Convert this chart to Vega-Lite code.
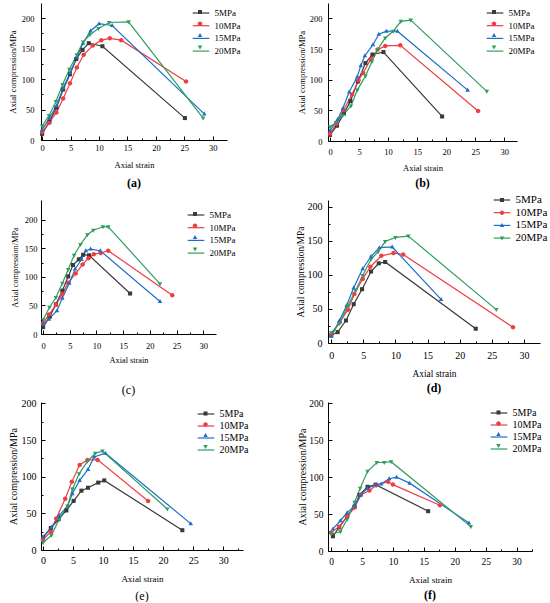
{
  "$schema": "https://vega.github.io/schema/vega-lite/v6.json",
  "padding": {"left": 8, "top": 3, "right": 0, "bottom": 0},
  "config": {
    "font": "Liberation Serif",
    "view": {"stroke": null},
    "axis": {"grid": false, "domainColor": "#000", "domainWidth": 1, "tickColor": "#000", "tickWidth": 1, "labelColor": "#000", "titleColor": "#000", "titleFontWeight": "normal", "labelFont": "Liberation Serif", "titleFont": "Liberation Serif", "labelFlush": false, "labelOverlap": false},
    "legend": {"labelFont": "Liberation Serif", "labelColor": "#000", "padding": 0, "symbolSize": 81, "symbolStrokeWidth": 0, "labelOffset": 8, "symbolOpacity": 1},
    "title": {"font": "Liberation Serif", "color": "#000"}
  },
  "data": {"values": [
    {"p":"a","s":"5MPa","x":0,"y":10},{"p":"a","s":"5MPa","x":1.3,"y":30},{"p":"a","s":"5MPa","x":2.5,"y":53},{"p":"a","s":"5MPa","x":3.7,"y":83},{"p":"a","s":"5MPa","x":4.9,"y":108},{"p":"a","s":"5MPa","x":6.0,"y":133},{"p":"a","s":"5MPa","x":7.1,"y":148},{"p":"a","s":"5MPa","x":8.2,"y":159},{"p":"a","s":"5MPa","x":10.6,"y":154},{"p":"a","s":"5MPa","x":25.1,"y":36},
    {"p":"a","s":"10MPa","x":0,"y":13},{"p":"a","s":"10MPa","x":1.2,"y":28},{"p":"a","s":"10MPa","x":2.5,"y":45},{"p":"a","s":"10MPa","x":3.7,"y":68},{"p":"a","s":"10MPa","x":4.9,"y":93},{"p":"a","s":"10MPa","x":6.1,"y":119},{"p":"a","s":"10MPa","x":7.3,"y":140},{"p":"a","s":"10MPa","x":8.9,"y":155},{"p":"a","s":"10MPa","x":10.4,"y":164},{"p":"a","s":"10MPa","x":11.9,"y":167},{"p":"a","s":"10MPa","x":13.9,"y":164},{"p":"a","s":"10MPa","x":25.3,"y":96},
    {"p":"a","s":"15MPa","x":0,"y":17},{"p":"a","s":"15MPa","x":1.3,"y":36},{"p":"a","s":"15MPa","x":2.5,"y":56},{"p":"a","s":"15MPa","x":3.7,"y":85},{"p":"a","s":"15MPa","x":4.9,"y":110},{"p":"a","s":"15MPa","x":6.1,"y":136},{"p":"a","s":"15MPa","x":7.2,"y":159},{"p":"a","s":"15MPa","x":8.5,"y":179},{"p":"a","s":"15MPa","x":10.0,"y":191},{"p":"a","s":"15MPa","x":12.3,"y":188},{"p":"a","s":"15MPa","x":28.5,"y":43},
    {"p":"a","s":"20MPa","x":0,"y":23},{"p":"a","s":"20MPa","x":1.2,"y":40},{"p":"a","s":"20MPa","x":2.4,"y":63},{"p":"a","s":"20MPa","x":3.6,"y":91},{"p":"a","s":"20MPa","x":4.8,"y":116},{"p":"a","s":"20MPa","x":6.1,"y":140},{"p":"a","s":"20MPa","x":7.2,"y":161},{"p":"a","s":"20MPa","x":8.4,"y":173},{"p":"a","s":"20MPa","x":9.9,"y":183},{"p":"a","s":"20MPa","x":11.8,"y":193},{"p":"a","s":"20MPa","x":15.2,"y":194},{"p":"a","s":"20MPa","x":28.3,"y":36},

    {"p":"b","s":"5MPa","x":0,"y":10},{"p":"b","s":"5MPa","x":1.2,"y":25},{"p":"b","s":"5MPa","x":2.4,"y":45},{"p":"b","s":"5MPa","x":3.5,"y":65},{"p":"b","s":"5MPa","x":4.8,"y":97},{"p":"b","s":"5MPa","x":6.1,"y":127},{"p":"b","s":"5MPa","x":7.3,"y":141},{"p":"b","s":"5MPa","x":9.2,"y":145},{"p":"b","s":"5MPa","x":19.3,"y":40},
    {"p":"b","s":"10MPa","x":0,"y":12},{"p":"b","s":"10MPa","x":1.1,"y":28},{"p":"b","s":"10MPa","x":2.3,"y":50},{"p":"b","s":"10MPa","x":3.8,"y":76},{"p":"b","s":"10MPa","x":4.9,"y":99},{"p":"b","s":"10MPa","x":5.7,"y":111},{"p":"b","s":"10MPa","x":7.0,"y":133},{"p":"b","s":"10MPa","x":8.2,"y":149},{"p":"b","s":"10MPa","x":9.5,"y":155},{"p":"b","s":"10MPa","x":12.1,"y":156},{"p":"b","s":"10MPa","x":25.5,"y":49},
    {"p":"b","s":"15MPa","x":0,"y":17},{"p":"b","s":"15MPa","x":1.3,"y":35},{"p":"b","s":"15MPa","x":2.2,"y":53},{"p":"b","s":"15MPa","x":3.3,"y":80},{"p":"b","s":"15MPa","x":4.7,"y":105},{"p":"b","s":"15MPa","x":5.3,"y":123},{"p":"b","s":"15MPa","x":6.0,"y":139},{"p":"b","s":"15MPa","x":7.4,"y":157},{"p":"b","s":"15MPa","x":8.4,"y":174},{"p":"b","s":"15MPa","x":9.7,"y":179},{"p":"b","s":"15MPa","x":11.6,"y":179},{"p":"b","s":"15MPa","x":23.7,"y":83},
    {"p":"b","s":"20MPa","x":0,"y":23},{"p":"b","s":"20MPa","x":1.0,"y":30},{"p":"b","s":"20MPa","x":2.2,"y":42},{"p":"b","s":"20MPa","x":3.6,"y":57},{"p":"b","s":"20MPa","x":4.7,"y":83},{"p":"b","s":"20MPa","x":6.1,"y":106},{"p":"b","s":"20MPa","x":7.2,"y":129},{"p":"b","s":"20MPa","x":8.2,"y":149},{"p":"b","s":"20MPa","x":9.5,"y":168},{"p":"b","s":"20MPa","x":10.9,"y":179},{"p":"b","s":"20MPa","x":12.2,"y":195},{"p":"b","s":"20MPa","x":13.9,"y":197},{"p":"b","s":"20MPa","x":27.0,"y":81},

    {"p":"c","s":"5MPa","x":0,"y":12},{"p":"c","s":"5MPa","x":1.2,"y":30},{"p":"c","s":"5MPa","x":2.4,"y":52},{"p":"c","s":"5MPa","x":3.6,"y":76},{"p":"c","s":"5MPa","x":4.7,"y":101},{"p":"c","s":"5MPa","x":5.6,"y":121},{"p":"c","s":"5MPa","x":6.7,"y":131},{"p":"c","s":"5MPa","x":7.5,"y":139},{"p":"c","s":"5MPa","x":8.6,"y":138},{"p":"c","s":"5MPa","x":16.3,"y":71},
    {"p":"c","s":"10MPa","x":0,"y":19},{"p":"c","s":"10MPa","x":1.1,"y":34},{"p":"c","s":"10MPa","x":2.4,"y":51},{"p":"c","s":"10MPa","x":3.6,"y":70},{"p":"c","s":"10MPa","x":4.7,"y":90},{"p":"c","s":"10MPa","x":6.1,"y":106},{"p":"c","s":"10MPa","x":7.4,"y":122},{"p":"c","s":"10MPa","x":8.5,"y":133},{"p":"c","s":"10MPa","x":9.5,"y":140},{"p":"c","s":"10MPa","x":10.8,"y":142},{"p":"c","s":"10MPa","x":12.2,"y":146},{"p":"c","s":"10MPa","x":24.2,"y":68},
    {"p":"c","s":"15MPa","x":0,"y":17},{"p":"c","s":"15MPa","x":1.1,"y":26},{"p":"c","s":"15MPa","x":2.6,"y":41},{"p":"c","s":"15MPa","x":3.6,"y":63},{"p":"c","s":"15MPa","x":4.9,"y":89},{"p":"c","s":"15MPa","x":6.0,"y":114},{"p":"c","s":"15MPa","x":7.2,"y":131},{"p":"c","s":"15MPa","x":8.0,"y":146},{"p":"c","s":"15MPa","x":8.9,"y":149},{"p":"c","s":"15MPa","x":10.7,"y":146},{"p":"c","s":"15MPa","x":21.9,"y":57},
    {"p":"c","s":"20MPa","x":0,"y":25},{"p":"c","s":"20MPa","x":1.2,"y":47},{"p":"c","s":"20MPa","x":2.4,"y":64},{"p":"c","s":"20MPa","x":3.6,"y":89},{"p":"c","s":"20MPa","x":4.7,"y":113},{"p":"c","s":"20MPa","x":5.8,"y":138},{"p":"c","s":"20MPa","x":7.0,"y":157},{"p":"c","s":"20MPa","x":8.3,"y":174},{"p":"c","s":"20MPa","x":9.4,"y":182},{"p":"c","s":"20MPa","x":11.2,"y":188},{"p":"c","s":"20MPa","x":12.2,"y":188},{"p":"c","s":"20MPa","x":21.9,"y":88},

    {"p":"d","s":"5MPa","x":0,"y":11},{"p":"d","s":"5MPa","x":1.0,"y":16},{"p":"d","s":"5MPa","x":2.3,"y":33},{"p":"d","s":"5MPa","x":3.5,"y":57},{"p":"d","s":"5MPa","x":4.8,"y":79},{"p":"d","s":"5MPa","x":6.2,"y":105},{"p":"d","s":"5MPa","x":7.4,"y":117},{"p":"d","s":"5MPa","x":8.4,"y":119},{"p":"d","s":"5MPa","x":22.5,"y":21},
    {"p":"d","s":"10MPa","x":0,"y":12},{"p":"d","s":"10MPa","x":1.3,"y":30},{"p":"d","s":"10MPa","x":2.6,"y":49},{"p":"d","s":"10MPa","x":3.6,"y":72},{"p":"d","s":"10MPa","x":4.9,"y":94},{"p":"d","s":"10MPa","x":6.1,"y":112},{"p":"d","s":"10MPa","x":7.8,"y":128},{"p":"d","s":"10MPa","x":9.7,"y":132},{"p":"d","s":"10MPa","x":11.2,"y":130},{"p":"d","s":"10MPa","x":28.3,"y":23},
    {"p":"d","s":"15MPa","x":0,"y":10},{"p":"d","s":"15MPa","x":1.3,"y":33},{"p":"d","s":"15MPa","x":2.4,"y":55},{"p":"d","s":"15MPa","x":3.5,"y":81},{"p":"d","s":"15MPa","x":4.9,"y":109},{"p":"d","s":"15MPa","x":6.2,"y":127},{"p":"d","s":"15MPa","x":7.5,"y":140},{"p":"d","s":"15MPa","x":9.5,"y":141},{"p":"d","s":"15MPa","x":17.1,"y":64},
    {"p":"d","s":"20MPa","x":0,"y":15},{"p":"d","s":"20MPa","x":1.3,"y":29},{"p":"d","s":"20MPa","x":2.6,"y":55},{"p":"d","s":"20MPa","x":3.8,"y":77},{"p":"d","s":"20MPa","x":4.9,"y":99},{"p":"d","s":"20MPa","x":6.2,"y":123},{"p":"d","s":"20MPa","x":7.3,"y":134},{"p":"d","s":"20MPa","x":8.4,"y":149},{"p":"d","s":"20MPa","x":10.0,"y":155},{"p":"d","s":"20MPa","x":12.0,"y":157},{"p":"d","s":"20MPa","x":25.7,"y":49},

    {"p":"e","s":"5MPa","x":0,"y":17},{"p":"e","s":"5MPa","x":1.3,"y":30},{"p":"e","s":"5MPa","x":2.6,"y":42},{"p":"e","s":"5MPa","x":3.9,"y":54},{"p":"e","s":"5MPa","x":5.1,"y":67},{"p":"e","s":"5MPa","x":6.4,"y":81},{"p":"e","s":"5MPa","x":7.5,"y":85},{"p":"e","s":"5MPa","x":9.2,"y":92},{"p":"e","s":"5MPa","x":10.2,"y":95},{"p":"e","s":"5MPa","x":23.2,"y":27},
    {"p":"e","s":"10MPa","x":0,"y":14},{"p":"e","s":"10MPa","x":1.3,"y":25},{"p":"e","s":"10MPa","x":2.2,"y":43},{"p":"e","s":"10MPa","x":3.7,"y":70},{"p":"e","s":"10MPa","x":4.8,"y":93},{"p":"e","s":"10MPa","x":6.1,"y":116},{"p":"e","s":"10MPa","x":7.4,"y":123},{"p":"e","s":"10MPa","x":9.1,"y":123},{"p":"e","s":"10MPa","x":17.5,"y":67},
    {"p":"e","s":"15MPa","x":0,"y":18},{"p":"e","s":"15MPa","x":1.4,"y":31},{"p":"e","s":"15MPa","x":2.7,"y":47},{"p":"e","s":"15MPa","x":4.1,"y":60},{"p":"e","s":"15MPa","x":4.9,"y":77},{"p":"e","s":"15MPa","x":6.1,"y":95},{"p":"e","s":"15MPa","x":7.5,"y":110},{"p":"e","s":"15MPa","x":8.5,"y":127},{"p":"e","s":"15MPa","x":10.4,"y":132},{"p":"e","s":"15MPa","x":24.6,"y":36},
    {"p":"e","s":"20MPa","x":0,"y":10},{"p":"e","s":"20MPa","x":1.4,"y":20},{"p":"e","s":"20MPa","x":2.7,"y":42},{"p":"e","s":"20MPa","x":4.1,"y":60},{"p":"e","s":"20MPa","x":4.9,"y":83},{"p":"e","s":"20MPa","x":6.0,"y":104},{"p":"e","s":"20MPa","x":7.4,"y":121},{"p":"e","s":"20MPa","x":8.7,"y":132},{"p":"e","s":"20MPa","x":9.9,"y":135},{"p":"e","s":"20MPa","x":20.7,"y":56},

    {"p":"f","s":"5MPa","x":0.3,"y":20},{"p":"f","s":"5MPa","x":1.3,"y":32},{"p":"f","s":"5MPa","x":2.6,"y":47},{"p":"f","s":"5MPa","x":3.8,"y":60},{"p":"f","s":"5MPa","x":4.6,"y":76},{"p":"f","s":"5MPa","x":5.9,"y":87},{"p":"f","s":"5MPa","x":7.2,"y":90},{"p":"f","s":"5MPa","x":15.7,"y":54},
    {"p":"f","s":"10MPa","x":0,"y":25},{"p":"f","s":"10MPa","x":1.3,"y":33},{"p":"f","s":"10MPa","x":2.6,"y":47},{"p":"f","s":"10MPa","x":3.8,"y":59},{"p":"f","s":"10MPa","x":4.8,"y":76},{"p":"f","s":"10MPa","x":6.2,"y":82},{"p":"f","s":"10MPa","x":7.3,"y":89},{"p":"f","s":"10MPa","x":9.2,"y":94},{"p":"f","s":"10MPa","x":10.0,"y":90},{"p":"f","s":"10MPa","x":17.6,"y":62},
    {"p":"f","s":"15MPa","x":0.3,"y":30},{"p":"f","s":"15MPa","x":1.5,"y":41},{"p":"f","s":"15MPa","x":2.6,"y":52},{"p":"f","s":"15MPa","x":3.8,"y":61},{"p":"f","s":"15MPa","x":4.8,"y":76},{"p":"f","s":"15MPa","x":5.9,"y":85},{"p":"f","s":"15MPa","x":7.3,"y":90},{"p":"f","s":"15MPa","x":8.1,"y":91},{"p":"f","s":"15MPa","x":9.4,"y":98},{"p":"f","s":"15MPa","x":10.6,"y":100},{"p":"f","s":"15MPa","x":12.7,"y":92},{"p":"f","s":"15MPa","x":22.3,"y":38},
    {"p":"f","s":"20MPa","x":0,"y":23},{"p":"f","s":"20MPa","x":1.5,"y":26},{"p":"f","s":"20MPa","x":2.6,"y":43},{"p":"f","s":"20MPa","x":3.8,"y":66},{"p":"f","s":"20MPa","x":4.7,"y":85},{"p":"f","s":"20MPa","x":5.9,"y":108},{"p":"f","s":"20MPa","x":7.4,"y":120},{"p":"f","s":"20MPa","x":8.6,"y":120},{"p":"f","s":"20MPa","x":9.7,"y":121},{"p":"f","s":"20MPa","x":22.6,"y":33}
  ]},
  "bounds": "flush",
  "columns": 2,
  "spacing": {"row": 59, "column": 85},
  "resolve": {"scale": {"color": "independent", "shape": "independent", "stroke": "independent"}, "legend": {"color": "independent", "shape": "independent", "stroke": "independent"}},
  "concat": [
    {
      "width": 186, "height": 137,
      "transform": [{"filter": "datum.p === 'a'"}],
      "title": {"text": "(a)", "orient": "bottom", "fontSize": 12, "fontWeight": "bold", "offset": 9},
      "encoding": {
        "x": {"field": "x", "type": "quantitative", "scale": {"domain": [-0.2, 32.5], "nice": false, "zero": false},
          "axis": {"title": "Axial strain", "values": [0,2.5,5,7.5,10,12.5,15,17.5,20,22.5,25,27.5,30], "labelExpr": "datum.value % 5 === 0 ? datum.label : ''", "tickSize": {"condition": {"test": "datum.value % 5 === 0", "value": -4}, "value": -2}, "labelFontSize": 8.5, "labelPadding": 7.5, "titleFontSize": 8.5, "titlePadding": 6}},
        "y": {"field": "y", "type": "quantitative", "scale": {"domain": [0, 225], "nice": false},
          "axis": {"title": "Axial compression/MPa", "values": [0,25,50,75,100,125,150,175,200], "labelExpr": "datum.value % 50 === 0 ? datum.label : ''", "tickSize": {"condition": {"test": "datum.value % 50 === 0", "value": -4}, "value": -2}, "labelFontSize": 8.5, "labelPadding": 11, "titleFontSize": 8.6, "titlePadding": 3.5}}
      },
      "layer": [
        {"mark": {"type": "line", "strokeWidth": 1.2},
          "encoding": {"stroke": {"field": "s", "type": "nominal", "scale": {"domain": ["5MPa","10MPa","15MPa","20MPa","-"], "range": ["#3a3a3a","#ee3d43","#1f6ec9","#2e9e5e","#000"]},
            "legend": {"orient": "none", "legendX": 154.5, "legendY": 4.5, "title": null, "values": ["5MPa","10MPa","15MPa","20MPa"], "symbolType": "M-1.85,0H1.85", "symbolStrokeWidth": 1.2, "labelFontSize": 9, "rowPadding": 1.7}}}},
        {"mark": {"type": "point", "filled": true, "opacity": 1, "size": 81},
          "encoding": {
            "color": {"field": "s", "type": "nominal", "scale": {"domain": ["5MPa","10MPa","15MPa","20MPa"], "range": ["#3a3a3a","#ee3d43","#1f6ec9","#2e9e5e"]},
              "legend": {"orient": "none", "legendX": 154.5, "legendY": 4.5, "title": null, "labelExpr": "''", "labelFontSize": 9, "rowPadding": 1.7}},
            "shape": {"field": "s", "type": "nominal", "scale": {"domain": ["5MPa","10MPa","15MPa","20MPa"], "range": ["M-0.45,-0.45H0.45V0.45H-0.45Z","M0.5,0A0.5,0.5 0 1,1 -0.5,0A0.5,0.5 0 1,1 0.5,0Z","M0,-0.55L0.5,0.35H-0.5Z","M0,0.55L-0.5,-0.35H0.5Z"]}, "legend": null}}}
      ]
    },
    {
      "width": 189, "height": 138,
      "transform": [{"filter": "datum.p === 'b'"}],
      "title": {"text": "(b)", "orient": "bottom", "fontSize": 12, "fontWeight": "bold", "offset": 6},
      "encoding": {
        "x": {"field": "x", "type": "quantitative", "scale": {"domain": [-0.35, 32.2], "nice": false, "zero": false},
          "axis": {"title": "Axial strain", "values": [0,2.5,5,7.5,10,12.5,15,17.5,20,22.5,25,27.5,30], "labelExpr": "datum.value % 5 === 0 ? datum.label : ''", "tickSize": {"condition": {"test": "datum.value % 5 === 0", "value": -4}, "value": -2}, "labelFontSize": 8.5, "labelPadding": 10.5, "titleFontSize": 8.5, "titlePadding": 5.4}},
        "y": {"field": "y", "type": "quantitative", "scale": {"domain": [0, 225], "nice": false},
          "axis": {"title": "Axial compression/MPa", "values": [0,25,50,75,100,125,150,175,200], "labelExpr": "datum.value % 50 === 0 ? datum.label : ''", "tickSize": {"condition": {"test": "datum.value % 50 === 0", "value": -4}, "value": -2}, "labelFontSize": 8.5, "labelPadding": 10, "titleFontSize": 8.6, "titlePadding": 3.2}}
      },
      "layer": [
        {"mark": {"type": "line", "strokeWidth": 1.2},
          "encoding": {"stroke": {"field": "s", "type": "nominal", "scale": {"domain": ["5MPa","10MPa","15MPa","20MPa","-"], "range": ["#3a3a3a","#ee3d43","#1f6ec9","#2e9e5e","#000"]},
            "legend": {"orient": "none", "legendX": 161.5, "legendY": 4.5, "title": null, "values": ["5MPa","10MPa","15MPa","20MPa"], "symbolType": "M-1.85,0H1.85", "symbolStrokeWidth": 1.2, "labelFontSize": 9, "rowPadding": 1.7}}}},
        {"mark": {"type": "point", "filled": true, "opacity": 1, "size": 81},
          "encoding": {
            "color": {"field": "s", "type": "nominal", "scale": {"domain": ["5MPa","10MPa","15MPa","20MPa"], "range": ["#3a3a3a","#ee3d43","#1f6ec9","#2e9e5e"]},
              "legend": {"orient": "none", "legendX": 161.5, "legendY": 4.5, "title": null, "labelExpr": "''", "labelFontSize": 9, "rowPadding": 1.7}},
            "shape": {"field": "s", "type": "nominal", "scale": {"domain": ["5MPa","10MPa","15MPa","20MPa"], "range": ["M-0.45,-0.45H0.45V0.45H-0.45Z","M0.5,0A0.5,0.5 0 1,1 -0.5,0A0.5,0.5 0 1,1 0.5,0Z","M0,-0.55L0.5,0.35H-0.5Z","M0,0.55L-0.5,-0.35H0.5Z"]}, "legend": null}}}
      ]
    },
    {
      "width": 175, "height": 134,
      "transform": [{"filter": "datum.p === 'c'"}],
      "title": {"text": "(c)", "orient": "bottom", "fontSize": 12, "fontWeight": "normal", "offset": 22},
      "encoding": {
        "x": {"field": "x", "type": "quantitative", "scale": {"domain": [-0.4, 32.4], "nice": false, "zero": false},
          "axis": {"title": "Axial strain", "values": [0,2.5,5,7.5,10,12.5,15,17.5,20,22.5,25,27.5,30], "labelExpr": "datum.value % 5 === 0 ? datum.label : ''", "tickSize": {"condition": {"test": "datum.value % 5 === 0", "value": -4}, "value": -2}, "labelFontSize": 8.5, "labelPadding": 11.5, "titleFontSize": 8.3, "titlePadding": 3}},
        "y": {"field": "y", "type": "quantitative", "scale": {"domain": [0, 235], "nice": false},
          "axis": {"title": "Axial compression/MPa", "values": [0,25,50,75,100,125,150,175,200], "labelExpr": "datum.value % 50 === 0 ? datum.label : ''", "tickSize": {"condition": {"test": "datum.value % 50 === 0", "value": -4}, "value": -2}, "labelFontSize": 8.5, "labelPadding": 8, "titleFontSize": 8.3, "titlePadding": 4.3}}
      },
      "layer": [
        {"mark": {"type": "line", "strokeWidth": 1.2},
          "encoding": {"stroke": {"field": "s", "type": "nominal", "scale": {"domain": ["5MPa","10MPa","15MPa","20MPa","-"], "range": ["#3a3a3a","#ee3d43","#1f6ec9","#2e9e5e","#000"]},
            "legend": {"orient": "none", "legendX": 149.5, "legendY": 9.5, "title": null, "values": ["5MPa","10MPa","15MPa","20MPa"], "symbolType": "M-1.85,0H1.85", "symbolStrokeWidth": 1.2, "labelFontSize": 9, "rowPadding": 1.7}}}},
        {"mark": {"type": "point", "filled": true, "opacity": 1, "size": 81},
          "encoding": {
            "color": {"field": "s", "type": "nominal", "scale": {"domain": ["5MPa","10MPa","15MPa","20MPa"], "range": ["#3a3a3a","#ee3d43","#1f6ec9","#2e9e5e"]},
              "legend": {"orient": "none", "legendX": 149.5, "legendY": 9.5, "title": null, "labelExpr": "''", "labelFontSize": 9, "rowPadding": 1.7}},
            "shape": {"field": "s", "type": "nominal", "scale": {"domain": ["5MPa","10MPa","15MPa","20MPa"], "range": ["M-0.45,-0.45H0.45V0.45H-0.45Z","M0.5,0A0.5,0.5 0 1,1 -0.5,0A0.5,0.5 0 1,1 0.5,0Z","M0,-0.55L0.5,0.35H-0.5Z","M0,0.55L-0.5,-0.35H0.5Z"]}, "legend": null}}}
      ]
    },
    {
      "width": 212, "height": 143,
      "transform": [{"filter": "datum.p === 'd'"}],
      "title": {"text": "(d)", "orient": "bottom", "fontSize": 12, "fontWeight": "bold", "offset": 5.3},
      "encoding": {
        "x": {"field": "x", "type": "quantitative", "scale": {"domain": [-0.5, 32.5], "nice": false, "zero": false},
          "axis": {"title": "Axial strain", "values": [0,2.5,5,7.5,10,12.5,15,17.5,20,22.5,25,27.5,30], "labelExpr": "datum.value % 5 === 0 ? datum.label : ''", "tickSize": {"condition": {"test": "datum.value % 5 === 0", "value": -4}, "value": -2}, "labelFontSize": 10, "labelPadding": 11, "titleFontSize": 9.4, "titlePadding": 7}},
        "y": {"field": "y", "type": "quantitative", "scale": {"domain": [0, 210], "nice": false},
          "axis": {"title": "Axial compression/MPa", "values": [0,25,50,75,100,125,150,175,200], "labelExpr": "datum.value % 50 === 0 ? datum.label : ''", "tickSize": {"condition": {"test": "datum.value % 50 === 0", "value": -4}, "value": -2}, "labelFontSize": 10, "labelPadding": 10, "titleFontSize": 9.4, "titlePadding": 1.5}}
      },
      "layer": [
        {"mark": {"type": "line", "strokeWidth": 1.2},
          "encoding": {"stroke": {"field": "s", "type": "nominal", "scale": {"domain": ["5MPa","10MPa","15MPa","20MPa","-"], "range": ["#3a3a3a","#ee3d43","#1f6ec9","#2e9e5e","#000"]},
            "legend": {"orient": "none", "legendX": 168.5, "legendY": -5.5, "title": null, "values": ["5MPa","10MPa","15MPa","20MPa"], "symbolType": "M-1.85,0H1.85", "symbolStrokeWidth": 1.2, "labelFontSize": 11, "rowPadding": 0.7}}}},
        {"mark": {"type": "point", "filled": true, "opacity": 1, "size": 81},
          "encoding": {
            "color": {"field": "s", "type": "nominal", "scale": {"domain": ["5MPa","10MPa","15MPa","20MPa"], "range": ["#3a3a3a","#ee3d43","#1f6ec9","#2e9e5e"]},
              "legend": {"orient": "none", "legendX": 168.5, "legendY": -5.5, "title": null, "labelExpr": "''", "labelFontSize": 11, "rowPadding": 0.7}},
            "shape": {"field": "s", "type": "nominal", "scale": {"domain": ["5MPa","10MPa","15MPa","20MPa"], "range": ["M-0.45,-0.45H0.45V0.45H-0.45Z","M0.5,0A0.5,0.5 0 1,1 -0.5,0A0.5,0.5 0 1,1 0.5,0Z","M0,-0.55L0.5,0.35H-0.5Z","M0,0.55L-0.5,-0.35H0.5Z"]}, "legend": null}}}
      ]
    },
    {
      "width": 202, "height": 148,
      "transform": [{"filter": "datum.p === 'e'"}],
      "title": {"text": "(e)", "orient": "bottom", "fontSize": 12, "fontWeight": "normal", "offset": 7.5},
      "encoding": {
        "x": {"field": "x", "type": "quantitative", "scale": {"domain": [-0.33, 33.3], "nice": false, "zero": false},
          "axis": {"title": "Axial strain", "values": [0,2.5,5,7.5,10,12.5,15,17.5,20,22.5,25,27.5,30,32.5], "labelExpr": "datum.value % 5 === 0 ? datum.label : ''", "tickSize": {"condition": {"test": "datum.value % 5 === 0", "value": -4}, "value": -2}, "labelFontSize": 10, "labelPadding": 9, "titleFontSize": 9, "titlePadding": 7}},
        "y": {"field": "y", "type": "quantitative", "scale": {"domain": [0, 202], "nice": false},
          "axis": {"title": "Axial compression/MPa", "values": [0,25,50,75,100,125,150,175,200], "labelExpr": "datum.value % 50 === 0 ? datum.label : ''", "tickSize": {"condition": {"test": "datum.value % 50 === 0", "value": -4}, "value": -2}, "labelFontSize": 10, "labelPadding": 9, "titleFontSize": 10, "titlePadding": 3}}
      },
      "layer": [
        {"mark": {"type": "line", "strokeWidth": 1.2},
          "encoding": {"stroke": {"field": "s", "type": "nominal", "scale": {"domain": ["5MPa","10MPa","15MPa","20MPa","-"], "range": ["#3a3a3a","#ee3d43","#1f6ec9","#2e9e5e","#000"]},
            "legend": {"orient": "none", "legendX": 159.5, "legendY": 6.5, "title": null, "values": ["5MPa","10MPa","15MPa","20MPa"], "symbolType": "M-1.85,0H1.85", "symbolStrokeWidth": 1.2, "labelFontSize": 10, "rowPadding": 1}}}},
        {"mark": {"type": "point", "filled": true, "opacity": 1, "size": 81},
          "encoding": {
            "color": {"field": "s", "type": "nominal", "scale": {"domain": ["5MPa","10MPa","15MPa","20MPa"], "range": ["#3a3a3a","#ee3d43","#1f6ec9","#2e9e5e"]},
              "legend": {"orient": "none", "legendX": 159.5, "legendY": 6.5, "title": null, "labelExpr": "''", "labelFontSize": 10, "rowPadding": 1}},
            "shape": {"field": "s", "type": "nominal", "scale": {"domain": ["5MPa","10MPa","15MPa","20MPa"], "range": ["M-0.45,-0.45H0.45V0.45H-0.45Z","M0.5,0A0.5,0.5 0 1,1 -0.5,0A0.5,0.5 0 1,1 0.5,0Z","M0,-0.55L0.5,0.35H-0.5Z","M0,0.55L-0.5,-0.35H0.5Z"]}, "legend": null}}}
      ]
    },
    {
      "width": 204, "height": 149,
      "transform": [{"filter": "datum.p === 'f'"}],
      "title": {"text": "(f)", "orient": "bottom", "fontSize": 12, "fontWeight": "bold", "offset": 5},
      "encoding": {
        "x": {"field": "x", "type": "quantitative", "scale": {"domain": [-0.5, 32.5], "nice": false, "zero": false},
          "axis": {"title": "Axial strain", "values": [0,2.5,5,7.5,10,12.5,15,17.5,20,22.5,25,27.5,30,32.5], "labelExpr": "datum.value % 5 === 0 ? datum.label : ''", "tickSize": {"condition": {"test": "datum.value % 5 === 0", "value": -4}, "value": -2}, "labelFontSize": 9.5, "labelPadding": 9.25, "titleFontSize": 9.2, "titlePadding": 7.6}},
        "y": {"field": "y", "type": "quantitative", "scale": {"domain": [0, 202], "nice": false},
          "axis": {"title": "Axial compression/MPa", "values": [0,25,50,75,100,125,150,175,200], "labelExpr": "datum.value % 50 === 0 ? datum.label : ''", "tickSize": {"condition": {"test": "datum.value % 50 === 0", "value": -4}, "value": -2}, "labelFontSize": 9.5, "labelPadding": 9, "titleFontSize": 10, "titlePadding": 1}}
      },
      "layer": [
        {"mark": {"type": "line", "strokeWidth": 1.2},
          "encoding": {"stroke": {"field": "s", "type": "nominal", "scale": {"domain": ["5MPa","10MPa","15MPa","20MPa","-"], "range": ["#3a3a3a","#ee3d43","#1f6ec9","#2e9e5e","#000"]},
            "legend": {"orient": "none", "legendX": 165.5, "legendY": 5.5, "title": null, "values": ["5MPa","10MPa","15MPa","20MPa"], "symbolType": "M-1.85,0H1.85", "symbolStrokeWidth": 1.2, "labelFontSize": 10, "rowPadding": 1}}}},
        {"mark": {"type": "point", "filled": true, "opacity": 1, "size": 81},
          "encoding": {
            "color": {"field": "s", "type": "nominal", "scale": {"domain": ["5MPa","10MPa","15MPa","20MPa"], "range": ["#3a3a3a","#ee3d43","#1f6ec9","#2e9e5e"]},
              "legend": {"orient": "none", "legendX": 165.5, "legendY": 5.5, "title": null, "labelExpr": "''", "labelFontSize": 10, "rowPadding": 1}},
            "shape": {"field": "s", "type": "nominal", "scale": {"domain": ["5MPa","10MPa","15MPa","20MPa"], "range": ["M-0.45,-0.45H0.45V0.45H-0.45Z","M0.5,0A0.5,0.5 0 1,1 -0.5,0A0.5,0.5 0 1,1 0.5,0Z","M0,-0.55L0.5,0.35H-0.5Z","M0,0.55L-0.5,-0.35H0.5Z"]}, "legend": null}}}
      ]
    }
  ]
}
